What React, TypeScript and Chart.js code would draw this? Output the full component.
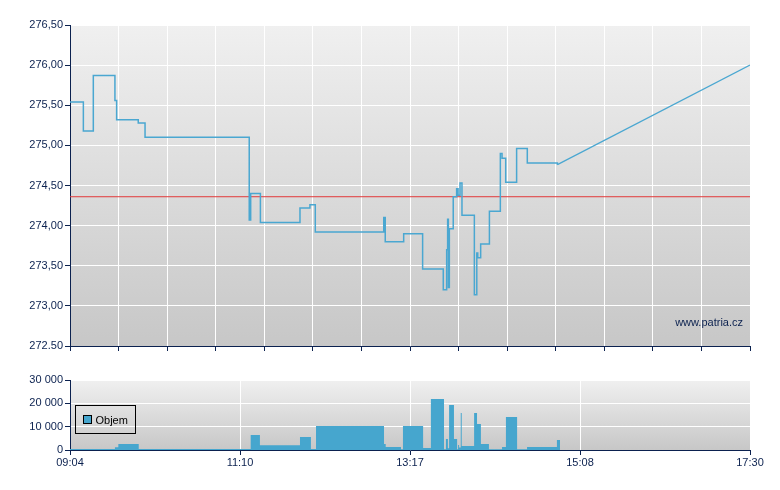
import React, { useEffect, useRef } from 'react';
import { Chart, registerables } from 'chart.js';

Chart.register(...registerables);

// ---- data (x on a 0..28 axis slot scale) ----
const priceX = [0.0, 0.55, 0.96, 1.85, 1.92, 2.81, 3.09, 7.38, 7.44, 7.84, 9.47, 9.88, 10.1, 12.92, 12.98, 13.74, 14.52, 15.37, 15.51, 15.55, 15.58, 15.62, 15.78, 15.92, 15.98, 16.06, 16.14, 16.65, 16.75, 16.79, 16.91, 17.27, 17.72, 17.79, 17.94, 18.39, 18.83, 20.07];
const priceY = [275.54, 275.18, 275.87, 275.56, 275.32, 275.28, 275.1, 274.07, 274.4, 274.04, 274.22, 274.26, 273.92, 274.1, 273.8, 273.9, 273.46, 273.2, 273.7, 274.08, 273.23, 273.96, 274.36, 274.46, 274.38, 274.53, 274.13, 273.14, 273.66, 273.6, 273.77, 274.18, 274.9, 274.84, 274.54, 274.96, 274.78, 274.76];
const rampX = [20.07, 28.0];
const rampY = [274.76, 276.0];
const referencePrice = 274.36;
const priceTickLabels = ['272.50', '273,00', '273,50', '274,00', '274,50', '275,00', '275,50', '276,00', '276,50'];

const volumeX = [0.0, 1.85, 1.99, 2.83, 7.44, 7.82, 9.47, 9.92, 10.13, 12.93, 13.0, 13.63, 13.71, 14.54, 14.86, 15.4, 15.48, 15.56, 15.61, 15.81, 15.94, 15.98, 16.02, 16.09, 16.13, 16.64, 16.76, 16.92, 17.25, 17.79, 17.95, 18.41, 18.82, 20.05, 20.18];
const volumeY = [400, 1150, 2600, 400, 6400, 2000, 5600, 400, 10300, 2600, 1300, 300, 10300, 860, 21900, 300, 4700, 800, 19300, 4700, 300, 2100, 1100, 15900, 1700, 15900, 11100, 2600, 300, 1300, 14100, 300, 1300, 4300, 0];
const timeLabels = ['09:04', '11:10', '13:17', '15:08', '17:30'];
const volumeTickLabels = ['0', '10 000', '20 000', '30 000'];
const legendLabel = 'Objem';
const watermark = 'www.patria.cz';

// ---- styles ----
const NAVY = '#0b214f';
const LINE = '#4aa7d1';
const FILL = '#46a6ce';
const FONT = "'Liberation Sans', Arial, sans-serif";

const bgPlugin = {
  id: 'bgGradient',
  beforeDraw(chart: any) {
    const { ctx, chartArea: a } = chart;
    const g = ctx.createLinearGradient(0, a.top, 0, a.bottom);
    g.addColorStop(0, '#f0f0f0');
    g.addColorStop(1, '#c7c7c7');
    ctx.save();
    ctx.fillStyle = g;
    ctx.fillRect(a.left, a.top, a.right - a.left, a.bottom - a.top);
    ctx.restore();
  },
};

const watermarkPlugin = {
  id: 'watermark',
  afterDraw(chart: any) {
    const { ctx, chartArea: a } = chart;
    ctx.save();
    ctx.font = `11px ${FONT}`;
    ctx.fillStyle = NAVY;
    ctx.textAlign = 'right';
    ctx.textBaseline = 'middle';
    ctx.fillText(watermark, a.right - 7, a.bottom - 23);
    ctx.restore();
  },
};

const legendPlugin = {
  id: 'boxLegend',
  afterDraw(chart: any) {
    const { ctx, chartArea: a } = chart;
    const x = a.left + 5.5;
    const y = a.top + 25.5;
    ctx.save();
    ctx.strokeStyle = '#000';
    ctx.lineWidth = 1;
    ctx.strokeRect(x, y, 60, 28);
    ctx.fillStyle = FILL;
    ctx.fillRect(x + 8, y + 10, 8, 8);
    ctx.strokeRect(x + 8, y + 10, 8, 8);
    ctx.font = `11px ${FONT}`;
    ctx.fillStyle = '#000';
    ctx.textAlign = 'left';
    ctx.textBaseline = 'alphabetic';
    ctx.fillText(legendLabel, x + 20, y + 18);
    ctx.restore();
  },
};

export default function App() {
  const topRef = useRef<HTMLCanvasElement>(null);
  const botRef = useRef<HTMLCanvasElement>(null);

  useEffect(() => {
    const priceData = priceX.map((x, i) => ({ x, y: priceY[i] }));
    const rampData = rampX.map((x, i) => ({ x, y: rampY[i] }));
    const refData = [{ x: 0, y: referencePrice }, { x: 28, y: referencePrice }];
    const volData = volumeX.map((x, i) => ({ x, y: volumeY[i] }));

    const top = new Chart(topRef.current as HTMLCanvasElement, {
      type: 'line',
      data: {
        datasets: [
          { data: priceData, borderColor: LINE, borderWidth: 1.5, pointRadius: 0, stepped: true, fill: false } as any,
          { data: rampData, borderColor: LINE, borderWidth: 1.2, pointRadius: 0, fill: false },
          { data: refData, borderColor: '#e2393a', borderWidth: 1, pointRadius: 0, fill: false },
        ],
      },
      options: {
        animation: false,
        responsive: false,
        devicePixelRatio: 1,
        events: [],
        layout: { padding: { left: 0, right: 30, top: 25, bottom: 0 } },
        plugins: { legend: { display: false }, tooltip: { enabled: false } },
        scales: {
          x: {
            type: 'linear',
            min: 0,
            max: 28,
            ticks: { stepSize: 2, display: false },
            grid: { color: '#ffffff', tickColor: NAVY, tickLength: 5, lineWidth: 1 },
            border: { color: NAVY, width: 1 },
            afterFit(scale: any) { scale.height = 14; },
          },
          y: {
            type: 'linear',
            min: 272.5,
            max: 276.5,
            ticks: {
              stepSize: 0.5,
              color: NAVY,
              padding: 2,
              font: { family: FONT, size: 11 },
              callback: (v: any) => priceTickLabels[Math.round((Number(v) - 272.5) / 0.5)] ?? '',
            },
            grid: { color: '#ffffff', tickColor: NAVY, tickLength: 5, lineWidth: 1 },
            border: { color: NAVY, width: 1 },
            afterFit(scale: any) { scale.width = 70; },
          },
        },
      },
      plugins: [bgPlugin, watermarkPlugin],
    } as any);

    const bot = new Chart(botRef.current as HTMLCanvasElement, {
      type: 'line',
      data: {
        datasets: [
          { data: volData, borderColor: FILL, backgroundColor: FILL, borderWidth: 0, pointRadius: 0, stepped: true, fill: 'origin' } as any,
        ],
      },
      options: {
        animation: false,
        responsive: false,
        devicePixelRatio: 1,
        events: [],
        layout: { padding: { left: 0, right: 30, top: 20, bottom: 0 } },
        plugins: { legend: { display: false }, tooltip: { enabled: false } },
        scales: {
          x: {
            type: 'linear',
            min: 0,
            max: 28,
            ticks: {
              stepSize: 7,
              color: NAVY,
              padding: 1,
              maxRotation: 0,
              autoSkip: false,
              font: { family: FONT, size: 11 },
              callback: (v: any) => timeLabels[Math.round(Number(v) / 7)] ?? '',
            },
            grid: { color: '#ffffff', tickColor: NAVY, tickLength: 5, lineWidth: 1 },
            border: { color: NAVY, width: 1 },
            afterFit(scale: any) { scale.height = 40; },
          },
          y: {
            type: 'linear',
            min: 0,
            max: 30000,
            ticks: {
              stepSize: 10000,
              color: NAVY,
              padding: 2,
              font: { family: FONT, size: 11 },
              callback: (v: any) => volumeTickLabels[Math.round(Number(v) / 10000)] ?? '',
            },
            grid: { color: '#ffffff', tickColor: NAVY, tickLength: 5, lineWidth: 1 },
            border: { color: NAVY, width: 1 },
            afterFit(scale: any) { scale.width = 70; },
          },
        },
      },
      plugins: [bgPlugin, legendPlugin],
    } as any);

    return () => {
      top.destroy();
      bot.destroy();
    };
  }, []);

  return (
    <div style={{ position: 'absolute', left: 0, top: 0, width: 780, height: 490, background: '#fff' }}>
      <canvas ref={topRef} width={780} height={360} style={{ position: 'absolute', left: 0, top: 0, display: 'block' }} />
      <canvas ref={botRef} width={780} height={130} style={{ position: 'absolute', left: 0, top: 360, display: 'block' }} />
    </div>
  );
}
